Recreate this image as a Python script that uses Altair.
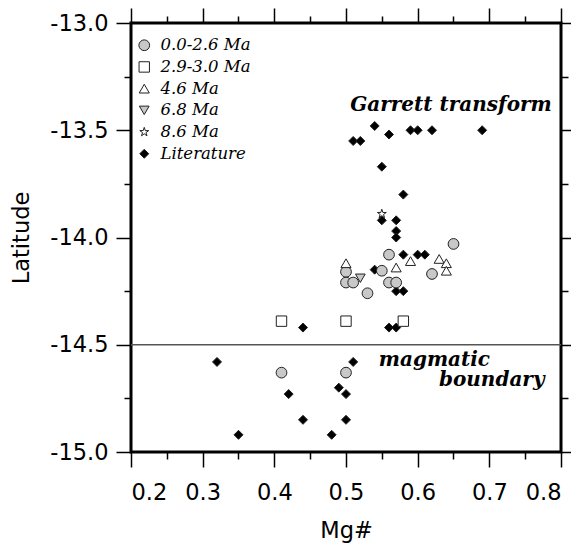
import altair as alt
import pandas as pd

groups = ["0.0-2.6 Ma", "2.9-3.0 Ma", "4.6 Ma", "6.8 Ma", "8.6 Ma", "Literature"]

lit_mg = [0.51, 0.52, 0.54, 0.56, 0.59, 0.60, 0.62, 0.69, 0.55, 0.58,
          0.55, 0.57, 0.57, 0.57, 0.58, 0.60, 0.61, 0.54, 0.57, 0.58, 0.44, 0.56, 0.57,
          0.32, 0.51, 0.42, 0.49, 0.50, 0.44, 0.50, 0.35, 0.48]
lit_lat = [-13.55, -13.55, -13.48, -13.52, -13.50, -13.50, -13.50, -13.50, -13.67, -13.80,
           -13.92, -13.92, -13.97, -14.00, -14.08, -14.08, -14.08, -14.15, -14.25, -14.25, -14.42, -14.42, -14.42,
           -14.58, -14.58, -14.73, -14.70, -14.73, -14.85, -14.85, -14.92, -14.92]

g1_mg = [0.65, 0.56, 0.50, 0.50, 0.51, 0.55, 0.56, 0.57, 0.53, 0.62, 0.41, 0.50]
g1_lat = [-14.03, -14.08, -14.16, -14.21, -14.21, -14.155, -14.21, -14.21, -14.26, -14.17, -14.63, -14.63]

g2_mg = [0.41, 0.50, 0.58]
g2_lat = [-14.39, -14.39, -14.39]

g3_mg = [0.50, 0.57, 0.59, 0.63, 0.64, 0.64]
g3_lat = [-14.12, -14.14, -14.11, -14.10, -14.12, -14.155]

g4_mg = [0.52]
g4_lat = [-14.19]

g5_mg = [0.55]
g5_lat = [-13.89]

x_ticks = [0.2, 0.25, 0.3, 0.35, 0.4, 0.45, 0.5, 0.55, 0.6, 0.65, 0.7, 0.75, 0.8]
y_ticks = [-15.0, -14.75, -14.5, -14.25, -14.0, -13.75, -13.5, -13.25, -13.0]

notes_text = ["Garrett transform", "magmatic", "boundary"]
notes_mg = [0.787, 0.701, 0.777]
notes_lat = [-13.41, -14.598, -14.692]

boundary_lat = [-14.5]

rows = []
for name, xs, ys in [("Literature", lit_mg, lit_lat), ("0.0-2.6 Ma", g1_mg, g1_lat),
                     ("2.9-3.0 Ma", g2_mg, g2_lat), ("4.6 Ma", g3_mg, g3_lat),
                     ("6.8 Ma", g4_mg, g4_lat), ("8.6 Ma", g5_mg, g5_lat)]:
    for a, b in zip(xs, ys):
        rows.append({"mg": a, "lat": b, "group": name})
df = pd.DataFrame(rows)

star = ("M0,-1L0.224,-0.309L0.951,-0.309L0.363,0.118L0.588,0.809L0,0.382"
        "L-0.588,0.809L-0.363,0.118L-0.951,-0.309L-0.224,-0.309Z")
shapes = ["circle", "square", "triangle-up", "triangle-down", star, "diamond"]
fills = ["#c8c8c8", "white", "white", "#c8c8c8", "white", "black"]
strokes = ["#222222"] * 6
sizes = [115, 81, 121, 121, 110, 85]

xdom = [0.2, 0.8]
ydom = [-15.0, -13.0]
major_x = "abs(datum.value*10 - round(datum.value*10)) < 0.001"
major_y = "abs(datum.value*2 - round(datum.value*2)) < 0.001"
font = "DejaVu Sans"

axis_common = dict(grid=False, domain=False, tickColor="black", tickWidth=1.5,
                   labelFont=font, labelFontSize=22.5, labelColor="black",
                   titleFont=font, titleFontSize=22.5, titleFontWeight="normal", titleColor="black")

x_bottom = alt.Axis(values=x_ticks, orient="bottom", title="Mg#",
                    labelExpr=f"({major_x}) ? format(datum.value, '.1f') : ''",
                    tickSize={"condition": {"test": major_x, "value": 15}, "value": 7},
                    labelPadding=14, titlePadding=16, **axis_common)
y_left = alt.Axis(values=y_ticks, orient="left", title="Latitude",
                  labelExpr=f"({major_y}) ? ((datum.value < 0 ? '-' : '') + format(abs(datum.value), '.1f')) : ''",
                  tickSize={"condition": {"test": major_y, "value": 15}, "value": 7},
                  labelPadding=8, titlePadding=16, **axis_common)
x_top = alt.Axis(values=x_ticks, orient="top", title=None, labels=False,
                 tickSize={"condition": {"test": major_x, "value": 15}, "value": 7},
                 grid=False, domain=False, tickColor="black", tickWidth=1.5)
y_right = alt.Axis(values=y_ticks, orient="right", title=None, labels=False,
                   tickSize={"condition": {"test": major_y, "value": 15}, "value": 7},
                   grid=False, domain=False, tickColor="black", tickWidth=1.5)

xscale = alt.Scale(domain=xdom, nice=False, zero=False)
yscale = alt.Scale(domain=ydom, nice=False, zero=False)

rule = alt.Chart(pd.DataFrame({"lat": boundary_lat})).mark_rule(
    color="#555555", strokeWidth=1.5
).encode(y=alt.Y("lat:Q", scale=yscale, axis=None))

legend = alt.Legend(title=None, orient="none", legendX=5, legendY=14, padding=0,
                    labelFont="DejaVu Serif", labelFontStyle="italic", labelFontSize=16.5,
                    labelColor="black", labelOffset=8, rowPadding=4.7,
                    symbolStrokeWidth=1)

points = alt.Chart(df).mark_point(filled=True, strokeWidth=1, opacity=1).encode(
    x=alt.X("mg:Q", scale=xscale, axis=x_bottom),
    y=alt.Y("lat:Q", scale=yscale, axis=y_left),
    shape=alt.Shape("group:N", scale=alt.Scale(domain=groups, range=shapes), legend=legend),
    fill=alt.Fill("group:N", scale=alt.Scale(domain=groups, range=fills), legend=legend),
    stroke=alt.Stroke("group:N", scale=alt.Scale(domain=groups, range=strokes), legend=legend),
    size=alt.Size("group:N", scale=alt.Scale(domain=groups, range=sizes), legend=legend),
)

notes = alt.Chart(pd.DataFrame({"mg": notes_mg, "lat": notes_lat, "t": notes_text})).mark_text(
    align="right", baseline="alphabetic", font="DejaVu Serif", fontStyle="italic",
    fontWeight="bold", fontSize=20, color="black"
).encode(
    x=alt.X("mg:Q", scale=xscale, axis=x_top),
    y=alt.Y("lat:Q", scale=yscale, axis=y_right),
    text="t:N",
)

chart = alt.layer(rule, points, notes).resolve_axis(
    x="independent", y="independent"
).properties(
    width=430, height=429,
    autosize=alt.AutoSizeParams(type="none"),
    padding={"left": 123, "top": 15, "right": 10, "bottom": 94},
    background="white",
).configure_view(stroke="black", strokeWidth=3)

chart.save("out.html", embed_options={"renderer": "svg", "actions": False})
